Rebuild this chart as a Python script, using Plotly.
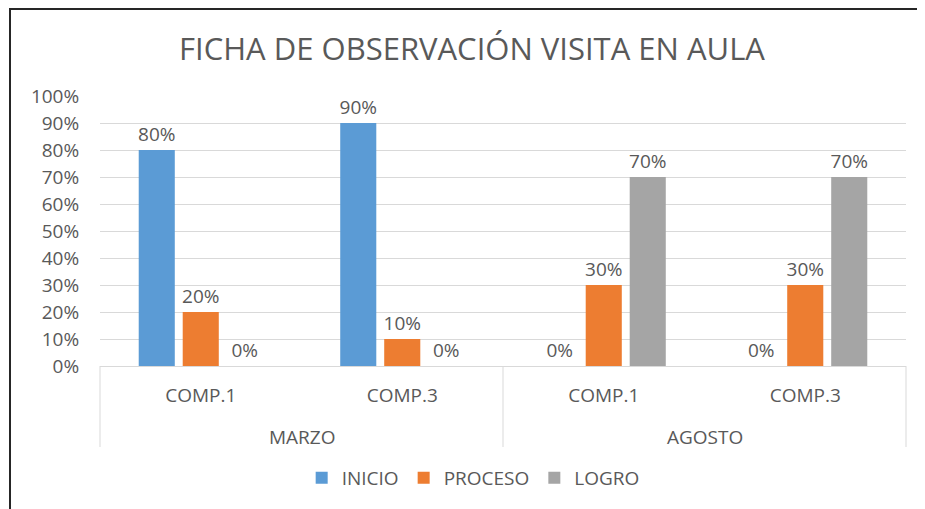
import plotly.graph_objects as go

# data
months = ["MARZO", "AGOSTO"]
cats = ["MARZO COMP.1", "MARZO COMP.3", "AGOSTO COMP.1", "AGOSTO COMP.3"]
cat_labels = ["COMP.1", "COMP.3", "COMP.1", "COMP.3"]
inicio = [0.80, 0.90, 0.0, 0.0]
proceso = [0.20, 0.10, 0.30, 0.30]
logro = [0.0, 0.0, 0.70, 0.70]
series = [("INICIO", inicio, "#5B9BD5"),
          ("PROCESO", proceso, "#ED7D31"),
          ("LOGRO", logro, "#A5A5A5")]

y_ticks = [i / 10 for i in range(11)]

FONT = "'Open Sans', sans-serif"
GREY = "#595959"
LINE = "#D9D9D9"
FS = 19

# the page body adds an 8px margin, so the figure is 8px smaller
W, H = 917, 501
ML, MR, MT, MB = 92, 19, 88, 143
pw, ph = W - ML - MR, H - MT - MB

fig = go.Figure()
for name, vals, col in series:
    fig.add_trace(go.Bar(
        x=cats, y=vals, name=name,
        marker=dict(color=col, line=dict(width=0)),
        text=[f"{v:.0%}" for v in vals],
        textposition="outside", cliponaxis=False,
        constraintext="none", textangle=0,
        textfont=dict(size=FS, color=GREY, family=FONT),
    ))

# chart frame (cropped at the right and bottom in the original)
fig.add_shape(type="rect", xref="paper", yref="paper",
              x0=(2 - ML) / pw, x1=(W + 20 - ML) / pw,
              y0=-(MB + 20) / ph, y1=1 + (MT - 1) / ph,
              line=dict(color="#262626", width=2), layer="below")

# category axis box: outer group dividers and month labels
n_groups = len(months)
for i in range(n_groups + 1):
    fig.add_shape(type="line", xref="paper", yref="paper",
                  x0=i / n_groups, x1=i / n_groups, y0=0, y1=-81 / ph,
                  line=dict(color=LINE, width=1))
for i, m in enumerate(months):
    fig.add_annotation(text=m, xref="paper", yref="paper",
                       x=(i + 0.5) / n_groups, y=-71 / ph,
                       xanchor="center", yanchor="middle", showarrow=False,
                       font=dict(size=FS, color=GREY, family=FONT))

fig.update_layout(
    width=W, height=H,
    margin=dict(l=ML, r=MR, t=MT, b=MB),
    paper_bgcolor="white", plot_bgcolor="white",
    title=dict(text="FICHA DE OBSERVACIÓN VISITA EN AULA",
               x=464 / W, xanchor="center", y=1 - 41 / H, yanchor="middle",
               font=dict(size=31, color=GREY, family=FONT)),
    barmode="group", bargap=0.345, bargroupgap=0.18,
    font=dict(family=FONT, color=GREY),
    showlegend=True,
    legend=dict(orientation="h", x=0.463, xanchor="center",
                y=-(470 - (MT + ph)) / ph, yanchor="middle",
                font=dict(size=FS, color=GREY, family=FONT),
                itemwidth=30, bgcolor="rgba(0,0,0,0)"),
    xaxis=dict(type="category", tickvals=cats, ticktext=cat_labels,
               showgrid=False, showline=True, linecolor=LINE, linewidth=1,
               ticks="outside", ticklen=12, tickcolor="rgba(0,0,0,0)",
               tickfont=dict(size=FS, color=GREY, family=FONT),
               zeroline=False),
    yaxis=dict(range=[0, 1], tickvals=y_ticks, tickformat=".0%",
               showgrid=True, gridcolor=LINE, gridwidth=1,
               zeroline=False, showline=False,
               ticks="outside", ticklen=16, tickcolor="rgba(0,0,0,0)",
               tickfont=dict(size=FS, color=GREY, family=FONT)),
)

fig.write_html("out.html")
